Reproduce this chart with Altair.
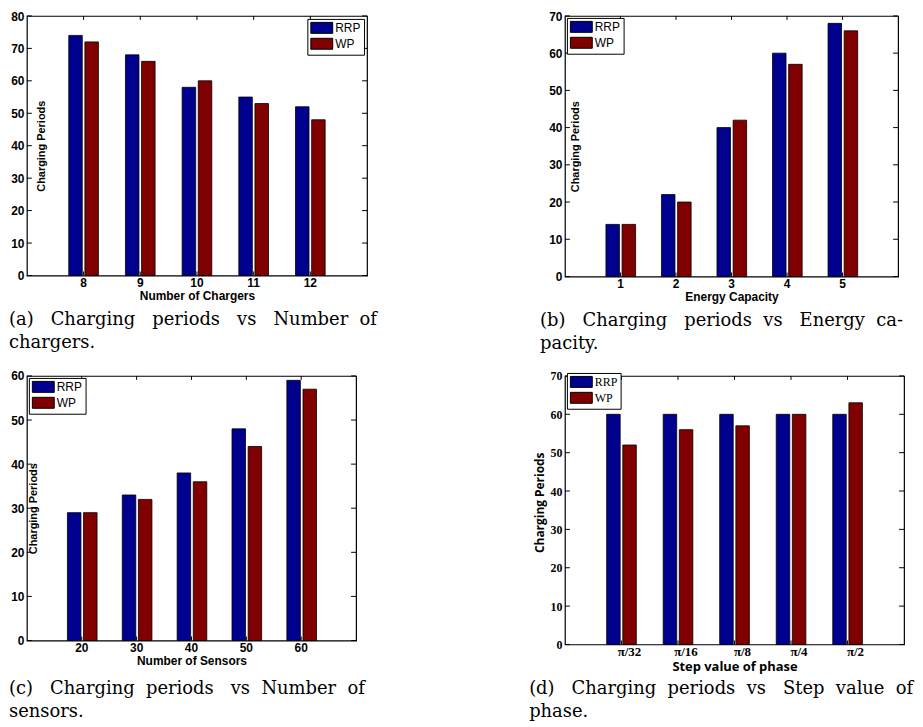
import altair as alt
import pandas as pd

series = ["RRP", "WP"]
colors = ["#00008f", "#800000"]

a_cats = ["8", "9", "10", "11", "12"]
a_rrp = [74, 68, 58, 55, 52]
a_wp = [72, 66, 60, 53, 48]
a_ticks = [0, 10, 20, 30, 40, 50, 60, 70, 80]

b_cats = ["1", "2", "3", "4", "5"]
b_rrp = [14, 22, 40, 60, 68]
b_wp = [14, 20, 42, 57, 66]
b_ticks = [0, 10, 20, 30, 40, 50, 60, 70]

c_cats = ["20", "30", "40", "50", "60"]
c_rrp = [29, 33, 38, 48, 59]
c_wp = [29, 32, 36, 44, 57]
c_ticks = [0, 10, 20, 30, 40, 50, 60]

d_cats = ["π/32", "π/16", "π/8", "π/4", "π/2"]
d_rrp = [60, 60, 60, 60, 60]
d_wp = [52, 56, 57, 60, 63]
d_ticks = [0, 10, 20, 30, 40, 50, 60, 70]

# caption words; the first line is justified, as in the printed figure
NB = "\u00a0"
captions = {
    "a": [f"(a) {NB*2}Charging {NB*2}periods {NB*2}vs {NB*2}Number {NB}of", "chargers."],
    "b": [f"(b) {NB*2}Charging {NB*2}periods {NB}vs {NB*2}Energy {NB}ca-", "pacity."],
    "c": [f"(c) {NB*2}Charging {NB}periods {NB*2}vs {NB}Number {NB}of", "sensors."],
    "d": [f"(d) {NB*2}Charging {NB}periods {NB}vs {NB*2}Step {NB}value {NB}of", "phase."],
}

SANS = "Liberation Sans"
SERIF = "Liberation Serif"
CAPTION_FONT = "DejaVu Serif"
SYMBOL = "M-1,-1H3V1H-1Z"


def panel(cats, rrp, wp, yticks, xtitle, caption, w, h, cap_dx, cap_off, legend_kw,
          ytitle_x, ytitle_dy=0, serif=False, lift_top=False):
    df = pd.DataFrame({
        "cat": cats * 2,
        "series": ["RRP"] * len(cats) + ["WP"] * len(cats),
        "value": rrp + wp,
    })
    tdf = pd.DataFrame({"value": yticks})
    cdf = pd.DataFrame({"cat": cats})
    tick_font = SERIF if serif else SANS
    title_font = "Open Sans" if serif else SANS
    title_size = 13 if serif else 12
    leg_font = SERIF if serif else SANS

    xscale = alt.Scale(paddingInner=0.477, paddingOuter=0.7385)
    yscale = alt.Scale(domain=[yticks[0], yticks[-1]], nice=False, zero=True)

    xaxis = alt.Axis(title=xtitle, labelAngle=0, ticks=False, domain=False,
                     labelFont=tick_font, labelFontSize=13 if serif else 12,
                     labelFontWeight="bold", labelPadding=1 if serif else 2,
                     labelOffset=8 if serif else 0,
                     titleFont=title_font, titleFontSize=title_size,
                     titleFontWeight="bold", titlePadding=2)
    ykw = {}
    if lift_top:
        test = f"datum.value == {yticks[-1]}"
        ykw = {
            "labelBaseline": {"condition": {"test": test, "value": "top"},
                              "value": "middle"},
            "labelOffset": {"condition": {"test": test, "value": -4}, "value": 0},
        }
    yaxis = alt.Axis(values=yticks, title="Charging Periods", ticks=False,
                     domain=False, grid=False, labelFont=tick_font,
                     labelFontSize=12, labelFontWeight="bold", labelPadding=3,
                     titleFont=title_font, titleFontSize=title_size - 1,
                     titleFontWeight="bold", titleAngle=270,
                     titleAlign="center", titleBaseline="middle",
                     titleX=ytitle_x, titleY=h / 2 + ytitle_dy, **ykw)

    bars = alt.Chart(df).mark_bar(stroke="#000000", strokeWidth=0.8, opacity=1).encode(
        x=alt.X("cat:N", sort=cats, scale=xscale, axis=xaxis),
        xOffset=alt.XOffset("series:N", sort=series,
                            scale=alt.Scale(paddingInner=0.1625, paddingOuter=0)),
        y=alt.Y("value:Q", scale=yscale, axis=yaxis),
        color=alt.Color("series:N", scale=alt.Scale(domain=series, range=colors),
                        legend=alt.Legend(title=None, strokeColor="#000000",
                                          fillColor="#ffffff", padding=3,
                                          symbolType=SYMBOL, symbolSize=121,
                                          symbolStrokeColor="#000000",
                                          symbolStrokeWidth=1, symbolOpacity=1,
                                          labelFont=leg_font, labelFontSize=12,
                                          labelColor="#000000", labelOffset=13,
                                          rowPadding=0, **legend_kw)),
    )
    left_t = alt.Chart(tdf).mark_rule(color="#000000").encode(
        y=alt.Y("value:Q", axis=yaxis), x=alt.value(0), x2=alt.value(5))
    right_t = alt.Chart(tdf).mark_rule(color="#000000").encode(
        y=alt.Y("value:Q", axis=yaxis), x=alt.value(w - 5), x2=alt.value(w))
    top_t = alt.Chart(cdf).mark_rule(color="#000000").encode(
        x=alt.X("cat:N", sort=cats, axis=xaxis), y=alt.value(0), y2=alt.value(4))
    bot_t = alt.Chart(cdf).mark_rule(color="#000000").encode(
        x=alt.X("cat:N", sort=cats, axis=xaxis), y=alt.value(h - 4), y2=alt.value(h))

    return alt.layer(bars, left_t, right_t, top_t, bot_t).properties(
        width=w, height=h,
        title=alt.TitleParams(text=caption, orient="bottom", anchor="start",
                              frame="group", dx=cap_dx, offset=cap_off,
                              font=CAPTION_FONT, fontSize=18, fontWeight="normal",
                              lineHeight=23, color="#000000"),
    )


pa = panel(a_cats, a_rrp, a_wp, a_ticks, "Number of Chargers", captions["a"],
           342, 261, -18, 10, {"orient": "top-right", "offset": 3}, ytitle_x=15,
           lift_top=True)
pb = panel(b_cats, b_rrp, b_wp, b_ticks, "Energy Capacity", captions["b"],
           335, 262, -25, 10, {"orient": "top-left", "offset": 2}, ytitle_x=11,
           lift_top=True)
pc = panel(c_cats, c_rrp, c_wp, c_ticks, "Number of Sensors", captions["c"],
           331, 266, -18, 14, {"orient": "top-left", "offset": 2}, ytitle_x=7)
pd_ = panel(d_cats, d_rrp, d_wp, d_ticks, "Step value of phase", captions["d"],
            341, 270, -36, 7, {"orient": "none", "legendX": 2, "legendY": -3},
            ytitle_x=-26, ytitle_dy=-8, serif=True)

chart = alt.concat(pa, pb, pc, pd_, columns=2, spacing={"row": 100, "column": 199},
                   bounds="flush").properties(
    padding=0,
    background="#ffffff",
).configure_view(stroke="#000000", strokeWidth=1.2).configure_axis(
    labelColor="#000000", titleColor="#000000"
)

chart.save("out.html", embed_options={"renderer": "svg", "actions": False})
